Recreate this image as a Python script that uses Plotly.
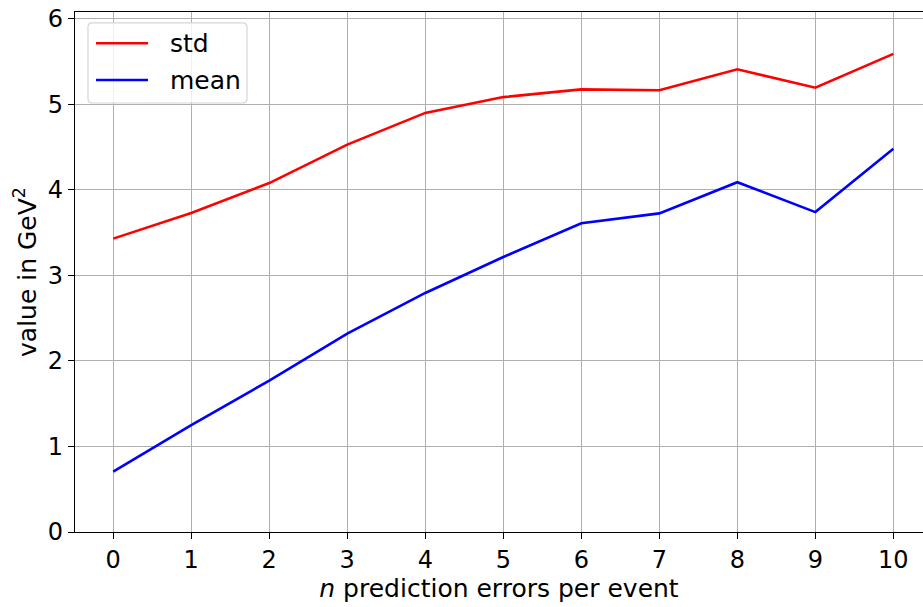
import plotly.graph_objects as go

# number of prediction errors per event
n_errors = [0, 1, 2, 3, 4, 5, 6, 7, 8, 9, 10]

# spread and mean of the reconstructed value (GeV^2)
std_values = [3.43, 3.73, 4.08, 4.53, 4.90, 5.085, 5.175, 5.165, 5.41, 5.195, 5.59]
mean_values = [0.705, 1.25, 1.77, 2.32, 2.795, 3.215, 3.61, 3.725, 4.09, 3.74, 4.48]

x_ticks = list(range(0, 11))
y_ticks = [0, 1, 2, 3, 4, 5, 6]

series_names = ["std", "mean"]
series_colors = ["#ff0000", "#0000ff"]

FONT = "DejaVu Sans"
TICK_SIZE = 24
LABEL_SIZE = 25

fig = go.Figure()
for name, values, color in zip(series_names, [std_values, mean_values], series_colors):
    fig.add_trace(go.Scatter(
        x=n_errors, y=values, mode="lines", name=name,
        line=dict(color=color, width=2.6), showlegend=False,
    ))

# legend box (paper coordinates), rounded frame
bx0, bx1, by0, by1 = 0.0153, 0.2028, 0.825, 0.979
rx, ry = 0.005, 0.008
frame = (f"M {bx0+rx},{by0} L {bx1-rx},{by0} Q {bx1},{by0} {bx1},{by0+ry} "
         f"L {bx1},{by1-ry} Q {bx1},{by1} {bx1-rx},{by1} "
         f"L {bx0+rx},{by1} Q {bx0},{by1} {bx0},{by1-ry} "
         f"L {bx0},{by0+ry} Q {bx0},{by0} {bx0+rx},{by0} Z")
shapes = [dict(type="path", path=frame, xref="paper", yref="paper",
               fillcolor="rgba(255,255,255,0.8)",
               line=dict(color="#d6d6d6", width=1.2), layer="above")]
annotations = []
entry_y = [0.9398, 0.8692]
for name, color, ey in zip(series_names, series_colors, entry_y):
    shapes.append(dict(type="line", xref="paper", yref="paper",
                       x0=0.0248, x1=0.0861, y0=ey, y1=ey,
                       line=dict(color=color, width=2.6), layer="above"))
    annotations.append(dict(text=name, xref="paper", yref="paper",
                            x=0.1097, y=ey, xanchor="left", yanchor="middle",
                            showarrow=False,
                            font=dict(family=FONT, size=LABEL_SIZE, color="black")))

fig.update_layout(
    width=923,
    height=607,
    margin=dict(l=75, r=0, t=12, b=75),
    paper_bgcolor="white",
    plot_bgcolor="white",
    font=dict(family=FONT, size=TICK_SIZE, color="black"),
    showlegend=False,
    shapes=shapes,
    annotations=annotations,
    xaxis=dict(
        range=[-0.49, 10.38],
        tickmode="array", tickvals=x_ticks, ticktext=[str(v) for v in x_ticks],
        showgrid=True, gridcolor="#b0b0b0", gridwidth=1.3,
        showline=True, linecolor="black", linewidth=1.3, mirror=True,
        ticks="outside", ticklen=6, tickwidth=1.3, tickcolor="black",
        zeroline=False,
        tickfont=dict(family=FONT, size=TICK_SIZE),
        title=dict(text="<i>n</i> prediction errors per event",
                   font=dict(family=FONT, size=LABEL_SIZE), standoff=6),
    ),
    yaxis=dict(
        range=[0, 6.08],
        tickmode="array", tickvals=y_ticks, ticktext=[str(v) for v in y_ticks],
        showgrid=True, gridcolor="#b0b0b0", gridwidth=1.3,
        showline=True, linecolor="black", linewidth=1.3, mirror=False,
        ticks="outside", ticklen=6, tickwidth=1.3, tickcolor="black",
        zeroline=False,
        tickfont=dict(family=FONT, size=TICK_SIZE),
        title=dict(text="value in GeV<sup>2</sup>",
                   font=dict(family=FONT, size=LABEL_SIZE), standoff=4),
    ),
)

fig.write_html("out.html")
